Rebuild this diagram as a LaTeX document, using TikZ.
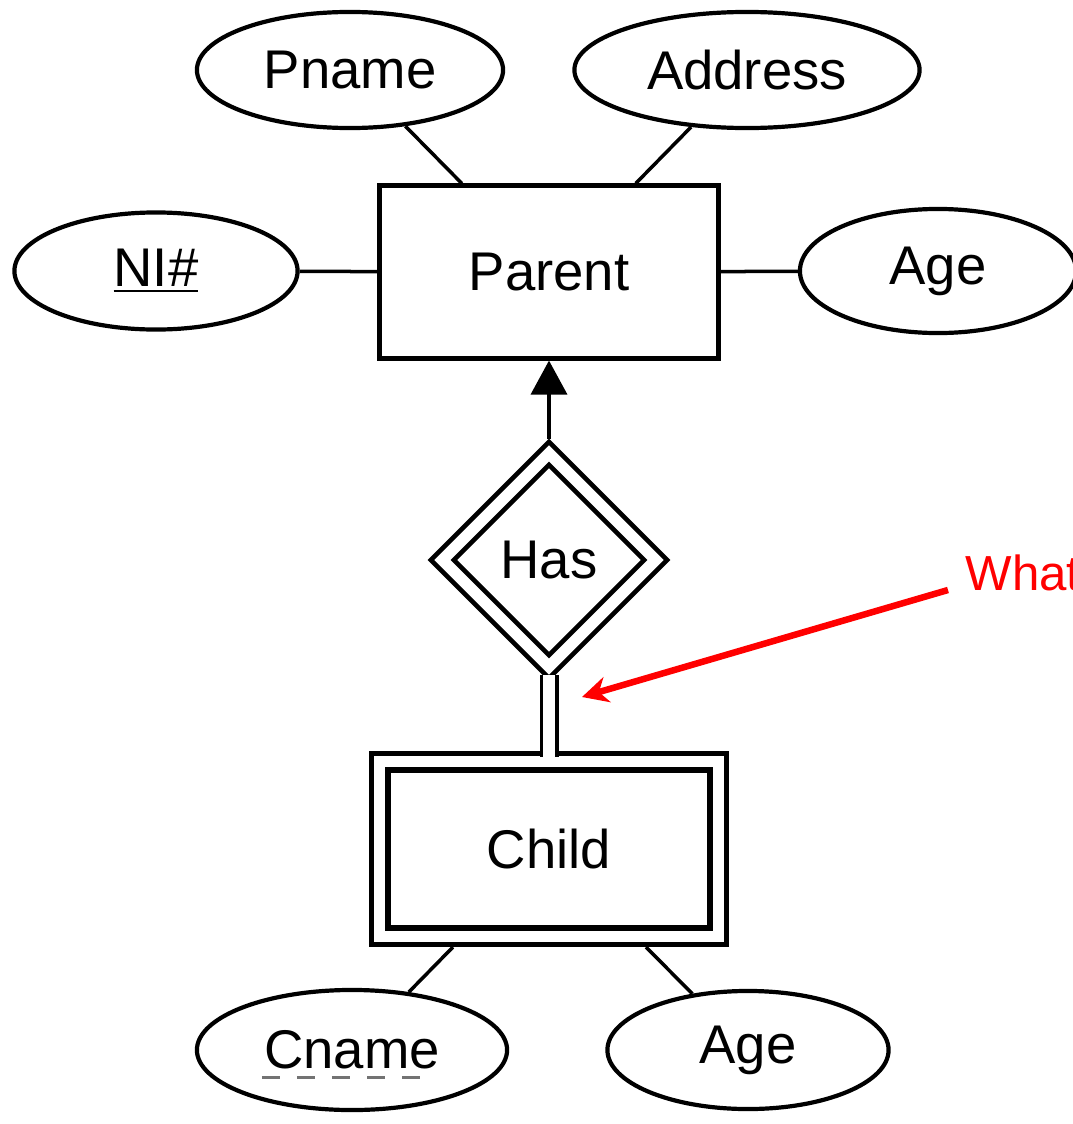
\documentclass[tikz,border=0pt]{standalone}
\usepackage{fontspec}
\setmainfont{Liberation Sans}
\usetikzlibrary{shapes.geometric,arrows.meta}

\begin{document}
\begin{tikzpicture}[x=0.01cm,y=-0.01cm,
    every node/.style={font=\fontsize{15.5}{18}\selectfont},
    attr/.style={draw,ellipse,line width=0.042cm,inner sep=0pt},
    entity/.style={draw,rectangle,line width=0.05cm,minimum width=3.38cm},
    link/.style={line width=0.035cm}]
      \useasboundingbox (0,0) rectangle (1072,1124);
      \node[entity,minimum height=1.72cm] (parent) at (549,272) {Parent};
      \node[attr,minimum width=3.06cm,minimum height=1.16cm] (pname) at (350,70) {Pname};
      \node[attr,minimum width=3.45cm,minimum height=1.16cm] (address) at (747,70) {Address};
      \node[attr,minimum width=2.83cm,minimum height=1.17cm] (ni) at (156,271) {\underline{NI\#}};
      \node[attr,minimum width=2.76cm,minimum height=1.24cm] (page) at (938,271) {Age};
      \node[draw,diamond,line width=0.045cm,minimum width=2.38cm,minimum height=2.38cm] (has) at (549,560) {Has};
      \node[draw,diamond,line width=0.045cm,minimum width=1.92cm,minimum height=1.92cm] (hasin) at (549,560) {};
      \node[entity,double,double distance=0.11cm,line width=0.055cm,outer sep=0.11cm,minimum height=1.74cm] (child) at (549,849) {Child};
      \node[attr,minimum width=3.10cm,minimum height=1.20cm] (cname) at (352,1050) {Cname};
      \node[attr,minimum width=2.81cm,minimum height=1.18cm] (cage) at (748,1050) {Age};
      \draw[link] (pname) -- (parent);
      \draw[link] (address) -- (parent);
      \draw[link] (ni) -- (parent);
      \draw[link] (page) -- (parent);
      \draw[link,-{Triangle[width=0.36cm,length=0.34cm]}] (has) -- (parent);
      \draw[line width=0.035cm,double,double distance=0.12cm,shorten <=-0.06cm,shorten >=-0.06cm] (has) -- (child);
      \draw[link] (cname) -- (child);
      \draw[link] (cage) -- (child);
      \draw[black!55,line width=0.028cm,dash pattern=on 0.18cm off 0.17cm]
        ([xshift=-0.9cm,yshift=-0.09cm]cname.base) -- ([xshift=0.7cm,yshift=-0.09cm]cname.base);
      \node[text=red,font=\fontsize{14}{16}\selectfont,anchor=base west,inner sep=0pt] (what) at (965,590) {What};
      \coordinate (whattip) at (582,697);
      \draw[red,line width=0.065cm,-{Stealth[length=0.26cm,width=0.26cm]}] ([xshift=-0.17cm]what.base west) -- (whattip);
    \end{tikzpicture}
\end{document}
